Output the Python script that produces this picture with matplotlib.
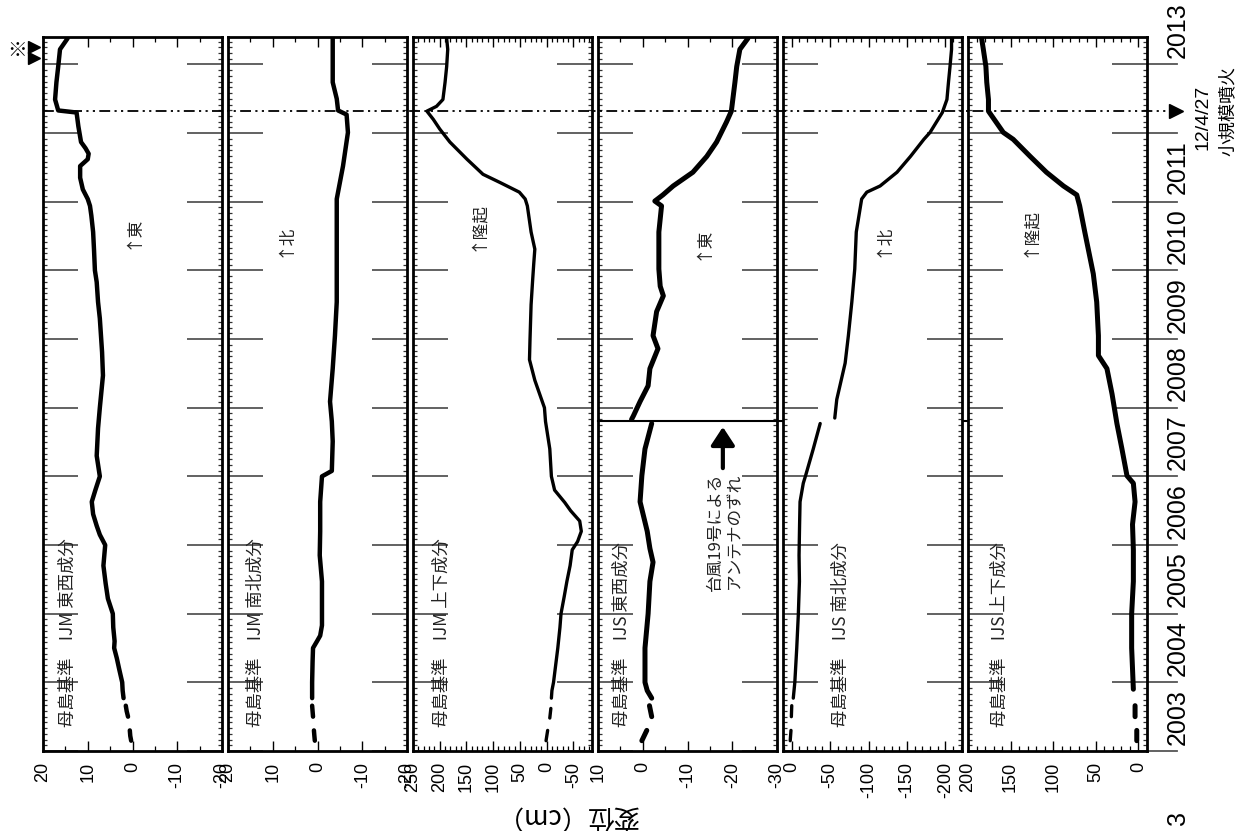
import numpy as np
import matplotlib
matplotlib.use("Agg")
import matplotlib.pyplot as plt
from matplotlib.ticker import MultipleLocator

plt.rcParams['font.family'] = ['Liberation Sans', 'Noto Sans CJK JP', 'DejaVu Sans']
plt.rcParams['axes.unicode_minus'] = False
JP = ['Noto Sans CJK JP', 'DejaVu Sans']
nan = np.nan

# ---------------- data (time in decimal years, displacement in cm) ----------------
# IJM east-west
t1 = [2003.15, 2003.22, 2003.30, 2003.40, 2003.50, 2003.58, 2003.66, 2003.71, 2003.77, 2003.88,
      2004.00, 2004.20, 2004.35, 2004.50, 2004.60, 2004.80, 2005.00, 2005.22, 2005.44, 2005.70,
      2005.85, 2006.00, 2006.15, 2006.28, 2006.45, 2006.63, 2006.80, 2007.00, 2007.30, 2007.70,
      2008.00, 2008.47, 2008.81, 2009.30, 2009.54, 2009.83, 2010.00, 2010.30, 2010.56, 2010.80,
      2010.94, 2011.04, 2011.18, 2011.35, 2011.52, 2011.62, 2011.70, 2011.78, 2011.87, 2012.10,
      2012.30, 2012.33, 2012.49, 2012.74, 2012.97, 2013.22, 2013.38]
v1 = [0.3, 0.5, 0.6, nan, 1.0, 1.3, 1.5, nan, 2.0, 2.2,
      2.3, 3.0, 3.5, 4.1, 4.0, 4.3, 4.4, 5.5, 6.0, 6.5,
      6.3, 6.1, 7.3, 8.0, 8.8, 9.1, 8.3, 7.3, 8.0, 7.7,
      7.3, 6.6, 6.8, 7.3, 7.7, 8.0, 8.4, 8.6, 8.8, 9.2,
      9.5, 10.0, 11.1, 11.7, 11.7, 10.0, 9.8, 10.5, 11.5, 12.1,
      12.5, 16.6, 17.3, 17.0, 16.6, 16.2, 14.5]

# IJM north-south
t2 = [2003.15, 2003.22, 2003.30, 2003.40, 2003.50, 2003.58, 2003.66, 2003.71, 2003.77, 2004.00,
      2004.30, 2004.50, 2004.60, 2004.68, 2004.83, 2005.20, 2005.47, 2005.85, 2006.20, 2006.63,
      2007.00, 2007.08, 2007.51, 2007.80, 2008.09, 2008.57, 2009.05, 2009.54, 2010.02, 2010.56,
      2011.04, 2011.52, 2012.01, 2012.27, 2012.33, 2012.50, 2012.74, 2013.20, 2013.38]
v2 = [0.6, 0.7, 0.8, nan, 1.0, 1.1, 1.2, nan, 1.2, 1.2,
      1.1, 1.0, 0.1, -0.6, -1.0, -1.0, -1.0, -0.5, -0.6, -0.6,
      -1.0, -3.2, -3.4, -3.2, -2.8, -3.4, -3.9, -4.3, -4.3, -4.3,
      -4.3, -5.7, -6.8, -6.5, -4.6, -4.3, -3.4, -3.4, -3.4]

# IJM up-down
t3 = [2003.15, 2003.30, 2003.40, 2003.48, 2003.62, 2003.71, 2003.77, 2003.88, 2004.00, 2004.25,
      2004.50, 2004.80, 2005.00, 2005.25, 2005.47, 2005.70, 2005.93, 2006.05, 2006.20, 2006.35,
      2006.50, 2006.62, 2006.80, 2007.00, 2007.40, 2007.80, 2008.00, 2008.20, 2008.40, 2008.70,
      2009.00, 2009.50, 2009.87, 2010.10, 2010.31, 2010.56, 2010.94, 2011.04, 2011.14, 2011.28,
      2011.40, 2011.62, 2011.87, 2012.06, 2012.20, 2012.32, 2012.39, 2012.49, 2012.74, 2012.97,
      2013.22, 2013.38]
v3 = [1, -2, nan, -6, -8, nan, -9, -10, -13, -17,
      -21, -25, -27, -33, -38, -44, -48, -58, -65, -62,
      -45, -34, -15, -9, -6, 2, 4, 13, 22, 32,
      31, 29, 26, 24, 22, 29, 36, 40, 51, 87,
      119, 149, 181, 200, 212, 224, 206, 194, 190, 187,
      185, 187]

# IJS east-west
t4 = [2003.15, 2003.30, 2003.40, 2003.50, 2003.66, 2003.71, 2003.77, 2003.88, 2004.00, 2004.50,
      2005.00, 2005.47, 2005.75, 2005.95, 2006.20, 2006.63, 2007.01, 2007.40, 2007.77, 2007.81,
      2007.83, 2007.88, 2008.09, 2008.32, 2008.57, 2008.86, 2009.05, 2009.40, 2009.63, 2009.77,
      2010.02, 2010.56, 2010.94, 2011.01, 2011.10, 2011.23, 2011.43, 2011.66, 2011.87, 2012.16,
      2012.32, 2012.74, 2012.97, 2013.22, 2013.38]
v4 = [0.2, -0.9, nan, -2.0, -1.5, nan, -2.0, -1.0, -0.5, -0.5,
      -1.2, -1.6, -2.3, -1.6, -1.0, 0.6, 0.2, -0.5, -2.0, nan,
      2.5, 2.1, 0.6, -1.2, -1.6, -3.4, -2.3, -3.1, -4.6, -3.9,
      -3.6, -3.6, -4.2, -2.7, -4.5, -6.8, -11.2, -14.3, -16.5, -18.7,
      -19.8, -20.6, -21.0, -21.7, -23.5]

# IJS north-south
t5 = [2003.15, 2003.30, 2003.40, 2003.50, 2003.66, 2003.71, 2003.77, 2004.00, 2004.50, 2005.00,
      2005.47, 2005.85, 2006.30, 2006.63, 2006.90, 2007.01, 2007.40, 2007.77, 2007.81, 2007.85,
      2008.12, 2008.65, 2009.05, 2009.54, 2010.02, 2010.56, 2011.04, 2011.14, 2011.23, 2011.43,
      2011.66, 2011.91, 2012.01, 2012.30, 2012.49, 2012.74, 2012.97, 2013.22, 2013.38]
v5 = [2, 1, nan, 0.5, 0, nan, -2, -4, -6.5, -8.6,
      -10, -9.5, -10.2, -10.8, -15, -18, -28, -37, nan, -56,
      -58.6, -69.5, -73.7, -78.2, -82, -84, -91, -97.7, -115, -137,
      -154.5, -172, -180, -196, -202, -204, -206, -208, -208]

# IJS up-down
t6 = [2003.15, 2003.30, 2003.40, 2003.50, 2003.66, 2003.71, 2003.90, 2004.50, 2005.00, 2005.47,
      2005.93, 2006.30, 2006.63, 2006.90, 2007.01, 2007.40, 2007.77, 2008.20, 2008.57, 2008.76,
      2009.05, 2009.54, 2009.95, 2010.56, 2010.94, 2011.10, 2011.23, 2011.43, 2011.66, 2011.91,
      2012.01, 2012.32, 2012.49, 2012.74, 2012.97, 2013.22, 2013.38]
v6 = [2, 2, nan, 4, 4, nan, 6, 8, 8, 6,
      6, 7, 4, 6, 13.5, 19.4, 25.3, 31, 37, 47,
      47, 49, 53, 63, 69, 72.4, 88, 108, 127, 147,
      158.6, 176, 176, 178, 179, 182, 184]

series_t = [t1, t2, t3, t4, t5, t6]
series_v = [v1, v2, v3, v4, v5, v6]

panel_titles = ['母島基準　IJM 東西成分', '母島基準　IJM 南北成分', '母島基準　IJM 上下成分',
                '母島基準　IJS 東西成分', '母島基準　IJS 南北成分', '母島基準　IJS 上下成分']
direction_labels = ['↑東', '↑北', '↑隆起', '↑東', '↑北', '↑隆起']
value_limits = [(20, -20), (20, -20), (250, -85), (10, -30), (11, -222), (200, -10)]
value_ticks = [[20, 10, 0, -10, -20], [20, 10, 0, -10, -20], [250, 200, 150, 100, 50, 0, -50],
               [10, 0, -10, -20, -30], [0, -50, -100, -150, -200], [200, 150, 100, 50, 0]]
minor_steps = [5, 5, 10, 5, 10, 10]

year_ticks = list(range(2003, 2014))
year_labels = [2003, 2004, 2005, 2006, 2007, 2008, 2009, 2010, 2011, 2013]
time_range = (2003.0, 2013.4)
eruption_t = 2012.32
eruption_date = '12/4/27'
eruption_label = '小規模噴火'
antenna_t = 2007.81
antenna_text = '台風19号による\nアンテナのずれ'
marker_ts = [2013.26, 2013.10]
y_label = '変位（cm）'

# ---------------- layout ----------------
W, H = 1240, 831
fig = plt.figure(figsize=(W / 100, H / 100), dpi=100)
fig.patch.set_facecolor('white')
lefts_px = [43, 228, 413, 598, 783.3, 968]
wpx = 179
bot_px, top_px = 751, 37
title_x = [0.14, 0.157, 0.16, 0.13, 0.32, 0.18]
dir_x = [0.503, 0.318, 0.358, 0.587, 0.559, 0.346]
dir_t = [2010.56, 2010.44, 2010.65, 2010.40, 2010.44, 2010.56]
line_w = [3.2, 3.2, 2.4, 3.6, 2.4, 3.6]
tick_gray = '#555555'

axes = []
for i in range(6):
    ax = fig.add_axes([lefts_px[i] / W, (H - bot_px) / H, wpx / W, (bot_px - top_px) / H])
    axes.append(ax)
    ax.plot(series_v[i], series_t[i], color='black', lw=line_w[i],
            solid_capstyle='round', solid_joinstyle='round')
    ax.set_ylim(*time_range)
    ax.set_xticks(value_ticks[i])
    ax.set_xticklabels([str(v) for v in value_ticks[i]])
    ax.xaxis.set_minor_locator(MultipleLocator(minor_steps[i]))
    ax.set_xlim(*value_limits[i])
    ax.yaxis.set_major_locator(MultipleLocator(1))
    ax.yaxis.set_minor_locator(MultipleLocator(1 / 12))
    ax.tick_params(axis='y', which='major', direction='in', length=25, width=1.3,
                   color=tick_gray, left=True, right=True, labelleft=False, labelright=False)
    ax.tick_params(axis='y', which='minor', direction='in', length=3, width=0.9,
                   color='#333333', left=True, right=True)
    ax.tick_params(axis='x', which='major', direction='in', length=7, width=1.0,
                   top=True, bottom=True, labelsize=13, pad=8, labelrotation=90)
    ax.tick_params(axis='x', which='minor', direction='in', length=3.5, width=0.9,
                   top=True, bottom=True)
    for s in ax.spines.values():
        s.set_linewidth(2.0)
    ax.text(title_x[i], 0.034, panel_titles[i], transform=ax.transAxes, rotation=90,
            rotation_mode='anchor', ha='left', va='center', fontsize=12.5, family=JP,
            color='#222222')
    ax.text(dir_x[i], dir_t[i], direction_labels[i], transform=ax.get_yaxis_transform(),
            rotation=90, ha='center', va='center', fontsize=12, family=JP, color='#222222')

ax1, ax4, ax6 = axes[0], axes[3], axes[5]

# eruption dash-dot line across all panels, with arrow mark
x_start = (lefts_px[0] - lefts_px[5]) / wpx
ax6.plot([x_start, 1.14], [eruption_t, eruption_t], transform=ax6.get_yaxis_transform(),
         clip_on=False, color='black', lw=1.3, linestyle=(0, (6, 2.4, 1.2, 2.4, 1.2, 2.4)))
ax6.plot([1.162], [eruption_t], marker='>', ms=10, color='black', clip_on=False,
         transform=ax6.get_yaxis_transform())
ax6.text(1.313, eruption_t - 0.09, eruption_date, transform=ax6.get_yaxis_transform(),
         rotation=90, ha='center', va='center', fontsize=14)
ax6.text(1.453, eruption_t, eruption_label, transform=ax6.get_yaxis_transform(),
         rotation=90, ha='center', va='center', fontsize=13, family=JP)

# year boundary ticks extended outside on the right, and year labels
for y in year_ticks:
    ax6.plot([1.0, 1.168], [y, y], transform=ax6.get_yaxis_transform(), clip_on=False,
             color=tick_gray, lw=1.3)
for y in year_labels:
    ax6.text(1.173, y + 0.5, str(y), transform=ax6.get_yaxis_transform(), rotation=90,
             ha='center', va='center', fontsize=18)

# antenna offset line (panels 4-6)
span = (lefts_px[5] + wpx - lefts_px[3]) / wpx
ax4.plot([0, span], [antenna_t, antenna_t], transform=ax4.get_yaxis_transform(),
         clip_on=False, color='black', lw=1.5)
ax4.annotate('', xy=(-17.9, 2007.72), xytext=(-17.9, 2007.12),
             arrowprops=dict(arrowstyle='-|>,head_length=0.55,head_width=0.36', lw=3,
                             color='black', mutation_scale=20, shrinkA=0, shrinkB=0))
ax4.text(-18.4, 2007.05, antenna_text, rotation=90, rotation_mode='anchor', ha='right',
         va='center', fontsize=12, family=JP, linespacing=1.15, color='#222222')

# marks at top left
for mt in marker_ts:
    ax1.plot([-0.05], [mt], marker='>', ms=9, color='black', clip_on=False,
             transform=ax1.get_yaxis_transform())
ax1.text(-0.145, 2013.21, '※', transform=ax1.get_yaxis_transform(), ha='center',
         va='center', fontsize=14, family=JP)

# y label (rotated)
fig.text(0.4565, 0.0193, y_label, rotation=180, ha='center', va='center', fontsize=19,
         family=JP)
fig.text(0.95, 0.0156, '3', rotation=90, ha='center', va='center', fontsize=18)

fig.savefig('out.png', dpi=100, facecolor='white')
